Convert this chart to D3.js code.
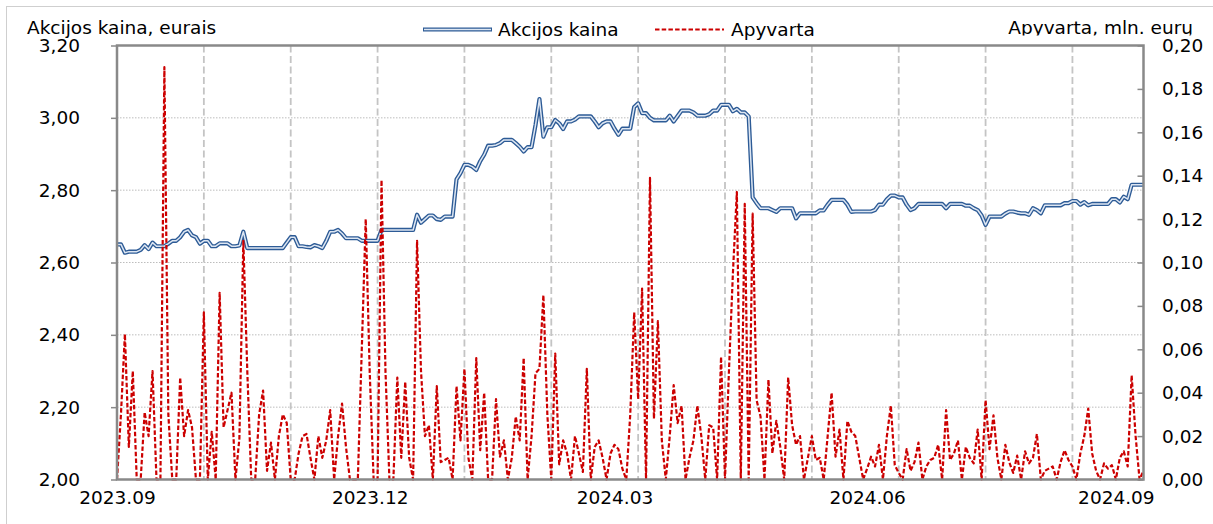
<!DOCTYPE html>
<html>
<head>
<meta charset="utf-8">
<script src="https://cdn.jsdelivr.net/npm/d3@7"></script>
<style>
  body { margin: 0; background: #fff; }
  svg text { font-family: "DejaVu Sans", Verdana, sans-serif; fill: #000; }
</style>
</head>
<body>
<script>
// akcijos kaina (EUR) ir apyvarta (mln. EUR), prekybos dienos 2023.09 - 2024.09
var price = [
  2.65,2.65,2.627,2.63,2.63,2.63,2.635,2.648,2.637,2.655,
  2.645,2.645,2.645,2.652,2.66,2.66,2.67,2.685,2.69,2.675,
  2.67,2.652,2.66,2.66,2.645,2.645,2.653,2.653,2.653,2.645,
  2.645,2.647,2.685,2.64,2.64,2.64,2.64,2.64,2.64,2.64,
  2.64,2.64,2.64,2.655,2.67,2.67,2.645,2.645,2.643,2.642,
  2.648,2.645,2.64,2.66,2.685,2.685,2.69,2.68,2.667,2.667,
  2.667,2.667,2.66,2.66,2.66,2.66,2.66,2.69,2.69,2.69,
  2.69,2.69,2.69,2.69,2.69,2.69,2.732,2.71,2.72,2.73,
  2.73,2.72,2.718,2.727,2.727,2.727,2.83,2.847,2.87,2.87,
  2.865,2.856,2.88,2.898,2.923,2.923,2.925,2.93,2.939,2.939,
  2.939,2.93,2.92,2.907,2.919,2.919,2.98,3.052,2.948,2.974,
  2.974,2.994,2.985,2.969,2.99,2.99,2.995,3.004,3.004,3.004,
  3.004,2.99,2.974,2.985,2.99,2.99,2.97,2.953,2.97,2.97,
  2.97,3.03,3.04,3.013,3.013,3.0,2.993,2.993,2.993,2.993,
  3.006,2.99,3.005,3.02,3.02,3.02,3.015,3.006,3.006,3.006,
  3.01,3.02,3.02,3.036,3.036,3.036,3.018,3.025,3.015,3.015,
  3.004,2.78,2.764,2.75,2.75,2.75,2.745,2.74,2.75,2.75,
  2.75,2.75,2.722,2.736,2.736,2.736,2.736,2.736,2.744,2.744,
  2.76,2.773,2.773,2.773,2.773,2.76,2.74,2.741,2.741,2.741,
  2.741,2.741,2.745,2.76,2.76,2.775,2.785,2.785,2.78,2.78,
  2.76,2.745,2.75,2.762,2.762,2.762,2.762,2.762,2.762,2.762,
  2.75,2.762,2.762,2.762,2.762,2.757,2.757,2.75,2.745,2.73,
  2.704,2.727,2.727,2.727,2.727,2.735,2.741,2.741,2.738,2.736,
  2.736,2.732,2.75,2.745,2.736,2.758,2.758,2.758,2.758,2.758,
  2.764,2.764,2.77,2.77,2.76,2.767,2.758,2.762,2.762,2.762,
  2.762,2.762,2.775,2.775,2.766,2.782,2.775,2.815,2.815,2.815,
  2.815
];

var turnover = [
  0,0.03,0.067,0.015,0.05,0,0,0.031,0.02,0.05,
  0,0,0.19,0.03,0,0,0.047,0.02,0.032,0.024,
  0,0,0.077,0,0.022,0,0.086,0.024,0.032,0.04,
  0,0.019,0.11,0.05,0,0,0.03,0.041,0.004,0.017,
  0,0.02,0.03,0.026,0,0,0.012,0.02,0.021,0.01,
  0,0.02,0.01,0.018,0.032,0,0.02,0.035,0.015,0,
  0,0,0.06,0.12,0.05,0,0,0.138,0.05,0,
  0,0.047,0.01,0.045,0.01,0,0.11,0.05,0.02,0.025,
  0,0.043,0.008,0.009,0.01,0,0.043,0.018,0.051,0.01,
  0,0.056,0.0135,0.04,0,0,0.037,0.0105,0.018,0,
  0.01,0.029,0.018,0.056,0,0.02,0.049,0.051,0.085,0.03,
  0,0.058,0.007,0.018,0.012,0,0.02,0.012,0.0035,0.051,
  0,0.015,0.018,0.01,0,0.012,0.016,0.014,0.005,0,
  0.03,0.077,0.037,0.088,0,0.139,0.028,0.073,0.018,0,
  0.02,0.0435,0.026,0.034,0,0.01,0.018,0.034,0.02,0,
  0.025,0.024,0,0.0565,0,0.05,0.095,0.1325,0,0.127,
  0,0.1225,0.0366,0.029,0,0.046,0.012,0.027,0.015,0,
  0.047,0.025,0.016,0.02,0,0.01,0.02,0.009,0.01,0,
  0.02,0.04,0.0105,0.023,0,0.027,0.022,0.02,0.01,0,
  0.005,0.0105,0.006,0.016,0,0.02,0.034,0.0066,0.003,0,
  0.014,0.004,0.008,0.017,0,0.006,0.009,0.01,0.016,0,
  0.032,0.009,0.012,0.018,0,0.015,0.01,0.0074,0.023,0,
  0.0366,0.014,0.0296,0.01,0,0.016,0.008,0.003,0.011,0,
  0.013,0.0074,0.01,0.021,0,0.004,0.005,0.006,0,0.008,
  0.0135,0.009,0.006,0,0.012,0.02,0.0327,0.012,0.004,0,
  0.0074,0.005,0.0066,0,0.01,0.013,0.006,0.048,0.02,0,
  0.004
];

// x asies zymes (prekybos dienos indeksas)
var xLabels = ["2023.09", "2023.12", "2024.03", "2024.06", "2024.09"];
var xLabelIndex = [0, 64, 126, 190, 253];
var gridEvery = 22;

var leftTicks = [2.0, 2.2, 2.4, 2.6, 2.8, 3.0, 3.2];
var rightTicks = [0, 0.02, 0.04, 0.06, 0.08, 0.1, 0.12, 0.14, 0.16, 0.18, 0.2];

var W = 1213, H = 524;
var plot = {left: 117, right: 1143.5, top: 45.5, bottom: 479.5};
var colors = {price: "#2d5b96", priceInner: "#dde6f2", turnover: "#cc0000", frame: "#898989", grid: "#c4c4c4"};
var fontSize = "18.5px";
var redDash = "4.5,2.2";

var svg = d3.select("body").append("svg")
    .attr("width", W)
    .attr("height", H);

var x = d3.scaleLinear().domain([0, price.length - 1]).range([plot.left, plot.right]);
var yL = d3.scaleLinear().domain([2, 3.2]).range([plot.bottom, plot.top]);
var yR = d3.scaleLinear().domain([0, 0.2]).range([plot.bottom, plot.top]);
var comma = function(d) { return d3.format(".2f")(d).replace(".", ","); };

// outer chart border
svg.append("rect")
    .attr("x", 6.5).attr("y", 6.5)
    .attr("width", W).attr("height", H)
    .style("fill", "none").style("stroke", "#cfcfcf").style("stroke-width", 1);

// horizontal dotted gridlines
svg.append("g").selectAll("line")
    .data(leftTicks.slice(1, -1))
    .enter().append("line")
    .attr("x1", plot.left).attr("x2", plot.right)
    .attr("y1", function(d) { return yL(d); })
    .attr("y2", function(d) { return yL(d); })
    .style("stroke", "#bdbdbd").style("stroke-width", 1)
    .style("stroke-dasharray", "1.5,1.5");

// vertical dashed gridlines
var gridIdx = d3.range(gridEvery, price.length - 1, gridEvery);
svg.append("g").selectAll("line")
    .data(gridIdx)
    .enter().append("line")
    .attr("x1", function(d) { return x(d); })
    .attr("x2", function(d) { return x(d); })
    .attr("y1", plot.top).attr("y2", plot.bottom)
    .style("stroke", colors.grid).style("stroke-width", 1.8)
    .style("stroke-dasharray", "7,3.5");

// price: double line
var priceLine = d3.line()
    .x(function(d, i) { return x(i); })
    .y(function(d) { return yL(d); });
svg.append("path").datum(price)
    .attr("d", priceLine)
    .style("fill", "none").style("stroke", colors.price)
    .style("stroke-width", 4.2).style("stroke-linejoin", "round");
svg.append("path").datum(price)
    .attr("d", priceLine)
    .style("fill", "none").style("stroke", colors.priceInner)
    .style("stroke-width", 1.5).style("stroke-linejoin", "round");

// turnover: red dashed
var turnLine = d3.line()
    .x(function(d, i) { return x(i); })
    .y(function(d) { return yR(d); });
svg.append("path").datum(turnover)
    .attr("d", turnLine)
    .style("fill", "none").style("stroke", colors.turnover)
    .style("stroke-width", 2.2).style("stroke-dasharray", redDash)
    .style("stroke-linejoin", "round");

// plot frame
svg.append("rect")
    .attr("x", plot.left).attr("y", plot.top)
    .attr("width", plot.right - plot.left).attr("height", plot.bottom - plot.top)
    .style("fill", "none").style("stroke", colors.frame).style("stroke-width", 2.5);

// left axis
var axL = svg.append("g")
    .attr("transform", "translate(" + plot.left + ",0)")
    .call(d3.axisLeft(yL).tickValues(leftTicks).tickFormat(comma).tickSize(6).tickPadding(31));
// right axis
var axR = svg.append("g")
    .attr("transform", "translate(" + plot.right + ",0)")
    .call(d3.axisRight(yR).tickValues(rightTicks).tickFormat(comma).tickSize(-6).tickPadding(18.5));
// bottom axis
var axB = svg.append("g")
    .attr("transform", "translate(0," + plot.bottom + ")")
    .call(d3.axisBottom(x).tickValues(xLabelIndex)
        .tickFormat(function(d, i) { return xLabels[i]; })
        .tickSize(0).tickPadding(11.5));

[axL, axR, axB].forEach(function(ax) {
  ax.select(".domain").remove();
  ax.selectAll(".tick line").style("stroke", colors.frame).style("stroke-width", 1.5);
  ax.selectAll("text").style("font-size", fontSize).style("fill", "#000")
    .style("font-family", "'DejaVu Sans', Verdana, sans-serif");
});

// axis titles
svg.append("text")
    .attr("x", 27).attr("y", 33.5)
    .style("font-size", fontSize)
    .text("Akcijos kaina, eurais");

svg.append("clipPath").attr("id", "cutTitle")
  .append("rect").attr("x", 900).attr("y", 0).attr("width", 313).attr("height", 35.5);
svg.append("text")
    .attr("x", 1193).attr("y", 34)
    .attr("text-anchor", "end")
    .attr("clip-path", "url(#cutTitle)")
    .style("font-size", fontSize)
    .text("Apyvarta, mln. eurų");

// legend
var legend = [
  {name: "Akcijos kaina", x1: 423, x2: 492, tx: 498},
  {name: "Apyvarta", x1: 655, x2: 724, tx: 731}
];
var lg = svg.append("g");
lg.append("line").attr("x1", legend[0].x1).attr("x2", legend[0].x2).attr("y1", 29.5).attr("y2", 29.5)
    .style("stroke", colors.price).style("stroke-width", 4.2);
lg.append("line").attr("x1", legend[0].x1 + 1).attr("x2", legend[0].x2 - 1).attr("y1", 29.5).attr("y2", 29.5)
    .style("stroke", colors.priceInner).style("stroke-width", 1.5);
lg.append("line").attr("x1", legend[1].x1).attr("x2", legend[1].x2).attr("y1", 29.5).attr("y2", 29.5)
    .style("stroke", colors.turnover).style("stroke-width", 2.2).style("stroke-dasharray", redDash);
lg.selectAll("text").data(legend).enter().append("text")
    .attr("x", function(d) { return d.tx; })
    .attr("y", 35.5)
    .style("font-size", fontSize)
    .text(function(d) { return d.name; });
</script>
</body>
</html>
